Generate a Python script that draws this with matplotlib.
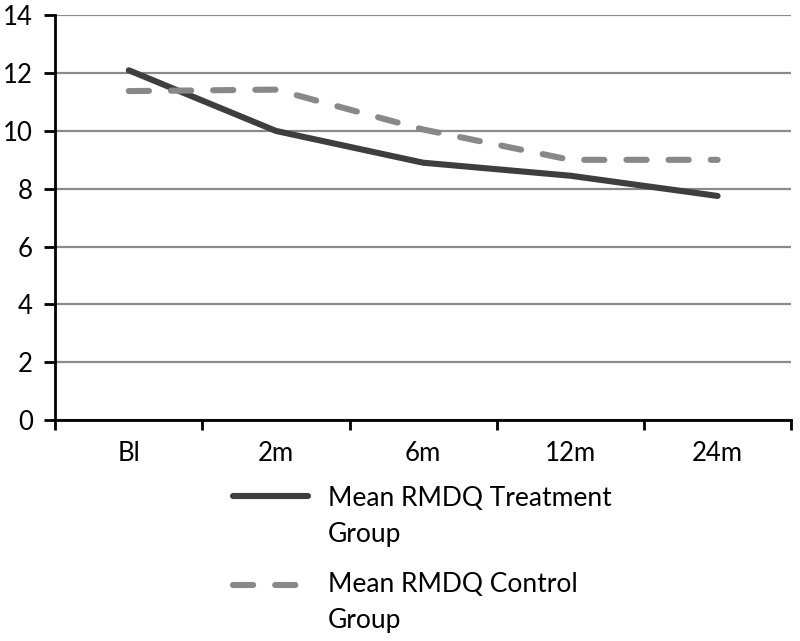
import matplotlib.pyplot as plt
from matplotlib.lines import Line2D
import numpy as np

# Data
timepoints = ["Bl", "2m", "6m", "12m", "24m"]
treatment = [12.1, 10.0, 8.9, 8.45, 7.75]
control = [11.38, 11.43, 10.05, 9.0, 9.0]
labels = [["Mean RMDQ Treatment", "Group"], ["Mean RMDQ Control", "Group"]]

plt.rcParams['font.family'] = ['Lato', 'DejaVu Sans']

dark = "#3e3e3e"
light = "#888888"
lw = 4.4

fig = plt.figure(figsize=(8, 6.41), dpi=100)
ax = fig.add_axes([0.069, 0.345, 0.92, 0.631])

x = np.arange(len(timepoints))
ax.plot(x, treatment, color=dark, linewidth=lw, solid_capstyle="round",
        solid_joinstyle="round", zorder=3)
ax.plot(x, control, color=light, linewidth=lw, dashes=(3.3, 3.6),
        dash_capstyle="round", zorder=3)

ax.set_xlim(-0.5, len(timepoints) - 0.5)
ax.set_ylim(0, 14)
ax.set_yticks(range(0, 15, 2))
ax.set_xticks(x)
ax.set_xticklabels(timepoints)
ax.set_xticks(np.arange(-0.5, len(timepoints), 1), minor=True)

ax.grid(axis="y", color="#8a8a8a", linewidth=1.6)
ax.set_axisbelow(True)
for s in ["top", "right"]:
    ax.spines[s].set_visible(False)
for s in ["left", "bottom"]:
    ax.spines[s].set_linewidth(2)
    ax.spines[s].set_color("black")

ax.tick_params(axis="x", which="major", length=0, pad=15, labelsize=18.5)
ax.tick_params(axis="x", which="minor", length=7, width=2, direction="out")
ax.tick_params(axis="y", length=8, width=2, direction="out", pad=8, labelsize=18.5)

# legend below the plot, drawn by hand to match the wrapped labels
handle_y = [0.2262, 0.0874]
text_y = [(0.2106, 0.1544), (0.0764, 0.0203)]
styles = [dict(color=dark, solid_capstyle="round"),
          dict(color=light, dashes=(3.3, 3.6), dash_capstyle="round")]
for lab, hy, ty, st in zip(labels, handle_y, text_y, styles):
    fig.add_artist(Line2D([0.291, 0.385], [hy, hy], transform=fig.transFigure,
                          linewidth=lw, **st))
    for line, yy in zip(lab, ty):
        fig.text(0.41, yy, line, fontsize=19, va="baseline", ha="left")

fig.savefig("out.png", dpi=100)
